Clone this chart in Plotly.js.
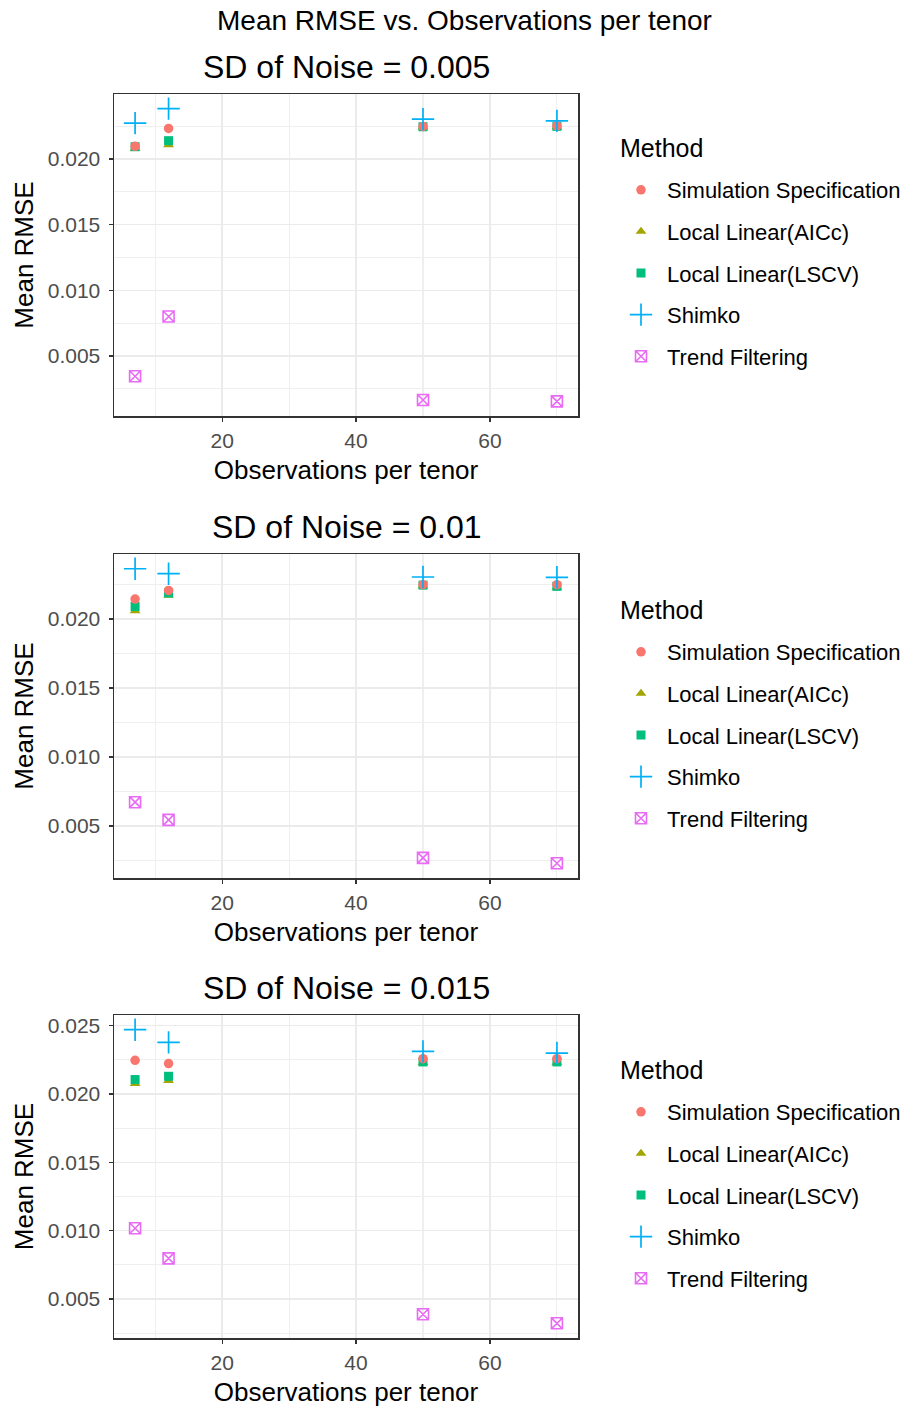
<!DOCTYPE html>
<html>
<head>
<meta charset="utf-8">
<script src="https://cdn.plot.ly/plotly-3.0.1.min.js"></script>
<style>html,body{margin:0;padding:0;background:#fff;}#chart{width:907px;height:1410px;}</style>
</head>
<body>
<div id="chart"></div>
<script>
// ---- data ----
const obs = [7, 12, 50, 70];
const methods = ["Simulation Specification", "Local Linear(AICc)", "Local Linear(LSCV)", "Shimko", "Trend Filtering"];
const panelTitles = ["SD of Noise = 0.005", "SD of Noise = 0.01", "SD of Noise = 0.015"];

// SD = 0.005
const sim_005    = [0.02096, 0.02232, 0.02247, 0.02252];
const aicc_005   = [0.02080, 0.02108, 0.02243, 0.02243];
const lscv_005   = [0.02093, 0.02139, 0.02245, 0.02248];
const shimko_005 = [0.02273, 0.02383, 0.02303, 0.02290];
const trend_005  = [0.00345, 0.00800, 0.00164, 0.00154];

// SD = 0.01
const sim_01    = [0.02145, 0.02208, 0.02249, 0.02249];
const aicc_01   = [0.02060, 0.02171, 0.02240, 0.02230];
const lscv_01   = [0.02091, 0.02189, 0.02246, 0.02237];
const shimko_01 = [0.02365, 0.02329, 0.02305, 0.02303];
const trend_01  = [0.00672, 0.00544, 0.00268, 0.00229];

// SD = 0.015
const sim_015    = [0.02247, 0.02223, 0.02259, 0.02259];
const aicc_015   = [0.02077, 0.02099, 0.02230, 0.02230];
const lscv_015   = [0.02106, 0.02130, 0.02235, 0.02235];
const shimko_015 = [0.02471, 0.02378, 0.02312, 0.02300];
const trend_015  = [0.01018, 0.00797, 0.00388, 0.00322];

const panels = [
  [sim_005, aicc_005, lscv_005, shimko_005, trend_005],
  [sim_01, aicc_01, lscv_01, shimko_01, trend_01],
  [sim_015, aicc_015, lscv_015, shimko_015, trend_015]
];

// ---- styles ----
const colors = ["#F8766D", "#A3A500", "#00BF7D", "#00B0F6", "#E76BF3"];
const markers = [
  {symbol: "circle", size: 9.5},
  {symbol: "triangle-up", size: 9.5},
  {symbol: "square", size: 9},
  {symbol: "cross-thin-open", size: 16, line: {width: 1.7}},
  {symbol: "square-x-open", size: 11, line: {width: 1.6}}
];
const drawOrder = [1, 2, 0, 3, 4]; // AICc, LSCV, Sim, Shimko, Trend (Sim drawn over Local Linear)

const W = 907, H = 1410;
const plotL = 114, plotR = 578;
const panelTops = [94, 554, 1015];
const panelBots = [416, 878, 1338];
const legendTitleY = [148, 610, 1070];
const font = "Liberation Sans, Arial, sans-serif";

const traces = [];
const layout = {
  width: W, height: H,
  margin: {l: 0, r: 0, t: 0, b: 0},
  paper_bgcolor: "#fff", plot_bgcolor: "#fff",
  font: {family: font, color: "#000"},
  showlegend: true,
  annotations: [{
    text: "Mean RMSE vs. Observations per tenor", xref: "paper", yref: "paper",
    x: 465 / W, y: 1 - 21 / H, xanchor: "center", yanchor: "middle",
    showarrow: false, font: {size: 28, color: "#000", family: font}
  }]
};

const xMin = Math.min(...obs), xMax = Math.max(...obs);
const xPad = (xMax - xMin) * 0.05;

panels.forEach((series, p) => {
  const ax = p === 0 ? "" : String(p + 1);
  const leg = p === 0 ? "legend" : "legend" + (p + 1);
  let all = [];
  series.forEach(s => all = all.concat(s));
  const yMin = Math.min(...all), yMax = Math.max(...all);
  const yPad = (yMax - yMin) * 0.05;

  drawOrder.forEach(m => {
    const mk = Object.assign({color: colors[m]}, markers[m]);
    if (mk.line) mk.line = Object.assign({color: colors[m]}, mk.line);
    traces.push({
      type: "scatter", mode: "markers",
      x: obs, y: series[m],
      name: methods[m],
      xaxis: "x" + ax, yaxis: "y" + ax,
      legend: leg,
      legendgroup: "p" + p + "m" + m,
      legendrank: m + 1,
      marker: mk,
      cliponaxis: false
    });
  });

  layout["xaxis" + ax] = {
    domain: [plotL / W, plotR / W],
    anchor: "y" + ax,
    range: [xMin - xPad, xMax + xPad],
    tick0: 0, dtick: 20,
    ticks: "outside", ticklen: 4, tickwidth: 1.2, tickcolor: "#333",
    tickfont: {size: 21, color: "#4D4D4D", family: font},
    ticklabelstandoff: 1,
    showgrid: true, gridcolor: "#EBEBEB", gridwidth: 1.4,
    minor: {dtick: 10, showgrid: true, gridcolor: "#EFEFEF", gridwidth: 1.1, ticks: ""},
    zeroline: false,
    showline: true, mirror: true, linecolor: "#333", linewidth: 1.5,
    title: {text: "Observations per tenor", font: {size: 26, color: "#000", family: font}, standoff: 10},
    automargin: false
  };
  layout["yaxis" + ax] = {
    domain: [1 - panelBots[p] / H, 1 - panelTops[p] / H],
    anchor: "x" + ax,
    range: [yMin - yPad, yMax + yPad],
    tick0: 0, dtick: 0.005, tickformat: ".3f",
    ticks: "outside", ticklen: 4, tickwidth: 1.2, tickcolor: "#333",
    tickfont: {size: 21, color: "#4D4D4D", family: font},
    ticklabelstandoff: 4,
    showgrid: true, gridcolor: "#EBEBEB", gridwidth: 1.4,
    minor: {dtick: 0.0025, showgrid: true, gridcolor: "#EFEFEF", gridwidth: 1.1, ticks: ""},
    zeroline: false,
    showline: true, mirror: true, linecolor: "#333", linewidth: 1.5,
    title: {text: "Mean RMSE", font: {size: 26, color: "#000", family: font}, standoff: 6},
    automargin: false
  };
  layout[leg] = {
    x: 615 / W, xanchor: "left",
    y: 1 - (legendTitleY[p] + 21) / H, yanchor: "top",
    font: {size: 22, color: "#000", family: font},
    itemwidth: 42,
    traceorder: "grouped",
    tracegroupgap: 10,
    bgcolor: "rgba(0,0,0,0)"
  };
  // legend title ("Method")
  layout.annotations.push({
    text: "Method", xref: "paper", yref: "paper",
    x: 618 / W, y: 1 - legendTitleY[p] / H, xanchor: "left", yanchor: "middle",
    showarrow: false, font: {size: 25, color: "#000", family: font}
  });
  // panel title
  layout.annotations.push({
    text: panelTitles[p], xref: "paper", yref: "paper",
    x: ((plotL + plotR) / 2) / W, y: 1 - (panelTops[p] - 27) / H,
    xanchor: "center", yanchor: "middle", showarrow: false,
    font: {size: 32, color: "#000", family: font}
  });
});

Plotly.newPlot("chart", traces, layout, {displayModeBar: false, staticPlot: true});
</script>
</body>
</html>
